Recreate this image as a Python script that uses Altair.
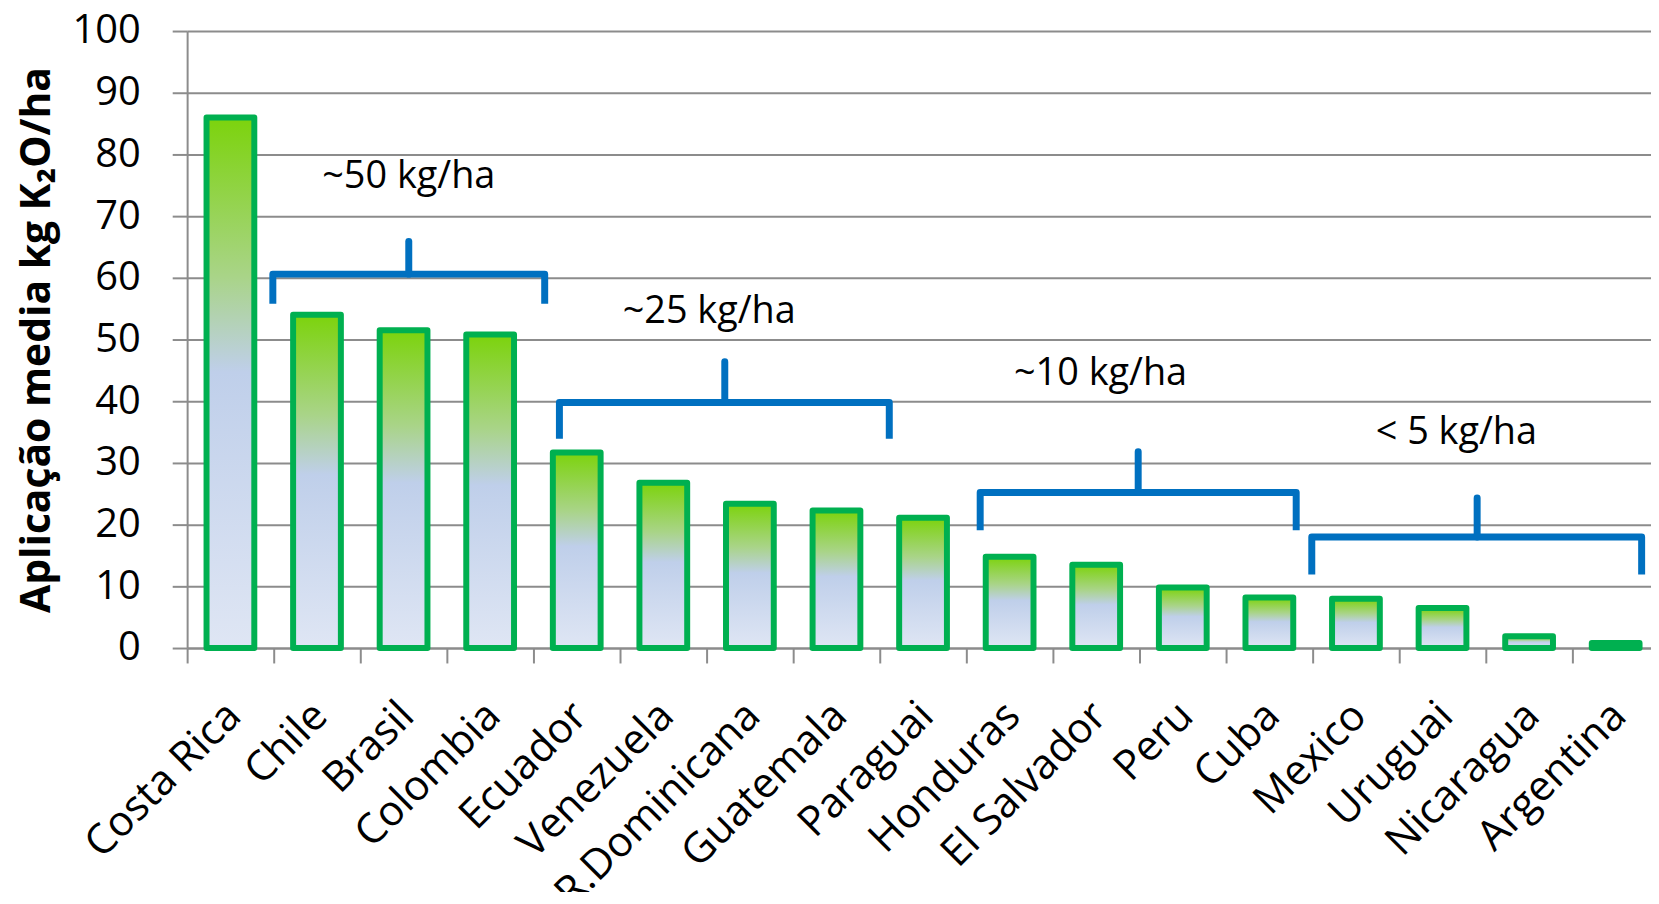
import json
import altair as alt
import pandas as pd

# ---- data ----
countries = ["Costa Rica", "Chile", "Brasil", "Colombia", "Ecuador", "Venezuela",
             "R.Dominicana", "Guatemala", "Paraguai", "Honduras", "El Salvador",
             "Peru", "Cuba", "Mexico", "Uruguai", "Nicaragua", "Argentina"]
values = [86.0, 54.0, 51.5, 50.8, 31.7, 26.8, 23.4, 22.3, 21.1, 14.8, 13.5,
          9.8, 8.2, 8.0, 6.5, 1.9, 0.8]

y_ticks = [0, 10, 20, 30, 40, 50, 60, 70, 80, 90, 100]
y_title = "Aplicação media kg K₂O/ha"

# braces (x in category units from the left edge of the plot, y in kg/ha)
brace_x0 = [0.99, 4.30, 9.16, 12.99]
brace_x1 = [4.13, 8.11, 12.81, 16.80]
brace_xm = [2.56, 6.21, 10.985, 14.90]
brace_y = [60.6, 39.8, 25.2, 18.0]
brace_yend = [55.8, 33.9, 19.1, 11.9]
brace_ytip = [65.9, 46.4, 31.8, 24.3]

label_text = ["~50 kg/ha", "~25 kg/ha", "~10 kg/ha", "< 5 kg/ha"]
label_x = [2.56, 6.03, 10.55, 14.66]
label_y = [74.5, 52.6, 42.7, 33.1]

# ---- tables ----
N = len(countries)
# each category occupies one unit band [i, i+1]; its bar sits at the band centre
bars_df = pd.DataFrame({"country": countries, "value": values,
                        "pos": [i + 0.5 for i in range(N)]})

body_rows = []
for i in range(len(brace_x0)):
    pts = [(brace_x0[i], brace_yend[i]), (brace_x0[i], brace_y[i]),
           (brace_x1[i], brace_y[i]), (brace_x1[i], brace_yend[i])]
    for k, (bx, by) in enumerate(pts):
        body_rows.append({"brace": i, "ord": k, "bx": bx, "value": by})
body_df = pd.DataFrame(body_rows)
tip_df = pd.DataFrame({"brace": range(4), "xm": brace_xm, "value": brace_y, "ytip": brace_ytip})
text_df = pd.DataFrame({"t": label_text, "lx": label_x, "value": label_y})

GRID = "#8c8c8c"
FONT = "Open Sans"
W = 1471          # visible plot width
STEP = 87         # width of one category band; the last band runs past the picture edge
VISIBLE_BANDS = W / STEP

yscale = alt.Scale(domain=[0, 100], nice=False)
qx = alt.Scale(domain=[0, VISIBLE_BANDS], nice=False, zero=False, padding=0)

# axis positions: band edges carry the ticks, band centres carry the names
axis_values = sorted(list(range(N + 1)) + [i + 0.5 for i in range(N)])
label_expr = (f"datum.value % 1 == 0.5 ? "
              f"{json.dumps(countries, ensure_ascii=False)}[floor(datum.value)] : ''")

gradient = alt.Gradient(
    gradient="linear",
    stops=[alt.GradientStop(color="#7cd30c", offset=0),
           alt.GradientStop(color="#a9d488", offset=0.3),
           alt.GradientStop(color="#bfcfea", offset=0.48),
           alt.GradientStop(color="#dfe6f4", offset=1)],
    x1=0, x2=0, y1=0, y2=1,
)

bars = alt.Chart(bars_df).mark_bar(
    fill=gradient, stroke="#00b050", strokeWidth=6, size=48, strokeJoin="round"
).encode(
    x=alt.X("pos:Q", scale=qx,
            axis=alt.Axis(title=None, values=axis_values, labelExpr=label_expr, grid=False,
                          tickSize=15, tickColor=GRID, tickWidth=2,
                          tickOpacity={"condition": {"test": "datum.value % 1 != 0", "value": 0},
                                       "value": 1},
                          domainColor=GRID, domainWidth=2,
                          labelAngle=-45, labelAlign="right", labelBaseline="middle",
                          labelFont=FONT, labelFontSize=42, labelColor="black", labelLimit=400,
                          labelPadding=46, labelOffset=3, labelOverlap=False)),
    y=alt.Y("value:Q", scale=yscale, title=y_title,
            axis=alt.Axis(values=y_ticks, grid=True, gridColor=GRID, gridWidth=2,
                          domainColor=GRID, domainWidth=2, tickColor=GRID, tickWidth=2, tickSize=15,
                          labelFont=FONT, labelFontSize=40, labelColor="black", labelPadding=32,
                          titleFont=FONT, titleFontSize=41,
                          titleFontWeight="bold", titleColor="black", titleX=-138, titleY=310,
                          titleAngle=270, titleAlign="center", titleBaseline="alphabetic",
                          titleLimit=800)),
)

body = alt.Chart(body_df).mark_line(
    color="#0070c0", strokeWidth=7, strokeJoin="round", strokeCap="butt"
).encode(
    x=alt.X("bx:Q", scale=qx),
    y=alt.Y("value:Q", scale=yscale, title=y_title),
    detail="brace:N",
    order="ord:Q",
)

tips = alt.Chart(tip_df).mark_rule(
    color="#0070c0", strokeWidth=7, strokeCap="round"
).encode(
    x=alt.X("xm:Q", scale=qx),
    y=alt.Y("value:Q", scale=yscale, title=y_title),
    y2="ytip:Q",
)

texts = alt.Chart(text_df).mark_text(
    font=FONT, fontSize=38, align="center", baseline="alphabetic", color="black"
).encode(
    x=alt.X("lx:Q", scale=qx),
    y=alt.Y("value:Q", scale=yscale, title=y_title),
    text="t:N",
)

chart = alt.layer(bars, body, tips, texts).properties(
    width=W, height=620,
    padding={"left": 180, "top": 21, "right": 0, "bottom": 243},
    autosize=alt.AutoSizeParams(type="none"),
    background="white",
).configure_view(stroke=None)

chart.save("out.html", embed_options={"renderer": "svg", "actions": False})
